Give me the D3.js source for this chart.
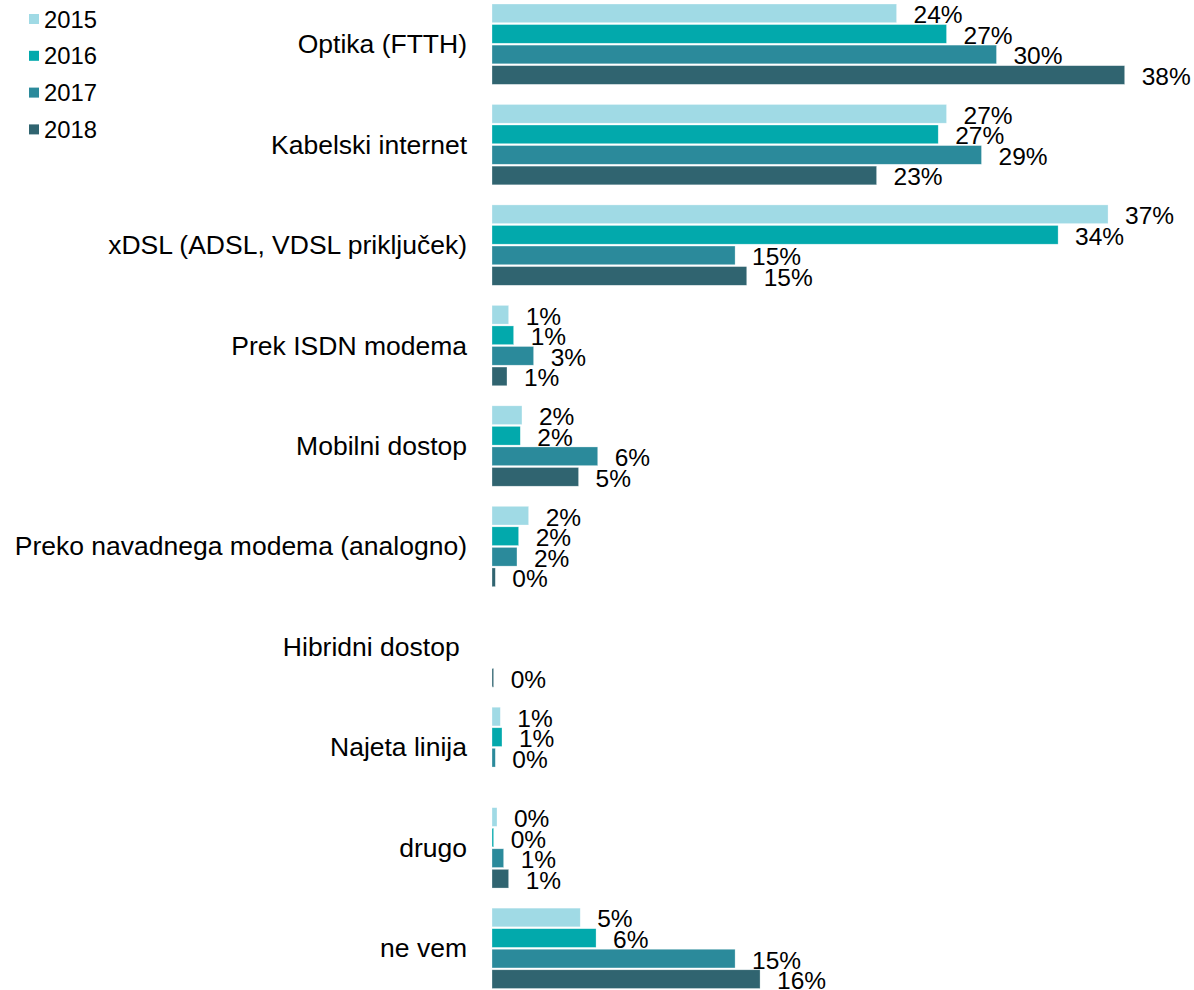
<!DOCTYPE html>
<html>
<head>
<meta charset="utf-8">
<script src="https://cdn.jsdelivr.net/npm/d3@7"></script>
<style>
  body { margin: 0; background: #fff; }
  text { font-family: "Liberation Sans", Arial, sans-serif; fill: #000; }
</style>
</head>
<body>
<div id="chart"></div>
<script>
// categories (top to bottom)
var categories = ["Optika (FTTH)", "Kabelski internet", "xDSL (ADSL, VDSL priključek)", "Prek ISDN modema",
    "Mobilni dostop", "Preko navadnega modema (analogno)", "Hibridni dostop\u00a0", "Najeta linija", "drugo", "ne vem"];
var years = ["2015", "2016", "2017", "2018"];

// shares in %, null = no bar
var v2015 = [24.3, 27.3, 37.0, 1.0, 1.8, 2.2, null, 0.5, 0.3, 5.3];
var v2016 = [27.3, 26.8, 34.0, 1.3, 1.7, 1.6, null, 0.6, 0.1, 6.25];
var v2017 = [30.3, 29.4, 14.6, 2.5, 6.35, 1.5, null, 0.2, 0.7, 14.6];
var v2018 = [38.0, 23.1, 15.3, 0.9, 5.2, 0.2, 0.1, null, 1.0, 16.1];

var colors = ["#a0dae5", "#02a9ac", "#2b8a9b", "#306470"];

var series = [v2015, v2016, v2017, v2018];
var width = 1194, height = 990;

var svg = d3.select("#chart").append("svg")
    .attr("width", width)
    .attr("height", height);

var xScale = d3.scaleLinear().domain([0, 40]).range([492, 1158]);

var yScale = d3.scaleBand()
    .domain(categories)
    .range([4, 988.5])
    .paddingInner(0.2)
    .paddingOuter(0);

var yInner = d3.scaleBand()
    .domain(years)
    .range([0, yScale.bandwidth()])
    .paddingInner(0.09);

var color = d3.scaleOrdinal().domain(years).range(colors);

// flatten into rows
var rows = [];
categories.forEach(function (c, i) {
    years.forEach(function (y, j) {
        if (series[j][i] != null) rows.push({cat: c, year: y, value: series[j][i]});
    });
});

var groups = svg.append("g").attr("id", "bars");

groups.selectAll("rect")
    .data(rows)
    .enter()
    .append("rect")
    .attr("x", xScale(0))
    .attr("y", function (d) { return yScale(d.cat) + yInner(d.year); })
    .attr("width", function (d) { return Math.max(xScale(d.value) - xScale(0), 1.5); })
    .attr("height", yInner.bandwidth())
    .attr("fill", function (d) { return color(d.year); })
    .attr("stroke", "#ffffff")
    .attr("stroke-opacity", 0.5)
    .attr("stroke-width", 0.6);

// value labels
groups.selectAll("text.val")
    .data(rows)
    .enter()
    .append("text")
    .attr("class", "val")
    .attr("x", function (d) { return xScale(d.value) + 17; })
    .attr("y", function (d) { return yScale(d.cat) + yInner(d.year) + yInner.bandwidth() / 2 + 10; })
    .style("font-size", "24.5px")
    .text(function (d) { return Math.round(d.value) + "%"; });

// category labels
svg.append("g").attr("id", "cats")
    .selectAll("text")
    .data(categories)
    .enter()
    .append("text")
    .attr("x", 467)
    .attr("y", function (d) { return yScale(d) + yScale.bandwidth() / 2 + 9; })
    .attr("text-anchor", "end")
    .style("font-size", "26.5px")
    .style("white-space", "pre")
    .text(function (d) { return d; });

// legend
var legend = svg.append("g").attr("id", "legend")
    .selectAll("g")
    .data(years)
    .enter()
    .append("g")
    .attr("transform", function (d, i) { return "translate(29," + (19 + i * 36.8) + ")"; });

legend.append("rect")
    .attr("x", 0)
    .attr("y", -5)
    .attr("width", 10)
    .attr("height", 10)
    .attr("fill", function (d) { return color(d); });

legend.append("text")
    .attr("x", 15)
    .attr("y", 8.5)
    .style("font-size", "23.8px")
    .text(function (d) { return d; });
</script>
</body>
</html>
